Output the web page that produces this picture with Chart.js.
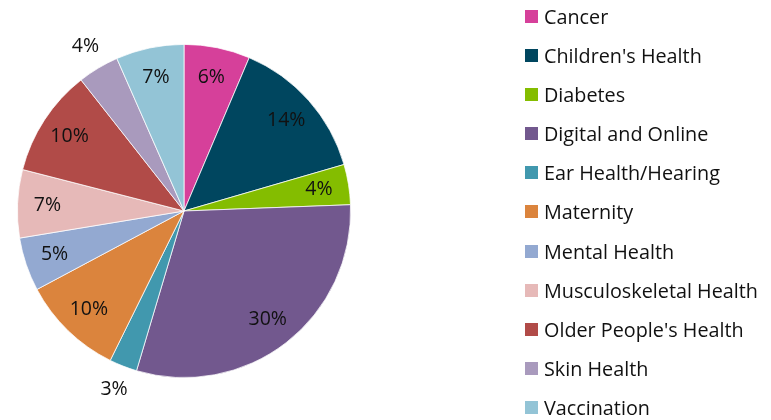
<!DOCTYPE html>
<html>
<head>
<meta charset="utf-8">
<script src="https://cdn.jsdelivr.net/npm/chart.js@4.4.1/dist/chart.umd.min.js"></script>
<style>
    html, body { margin: 0; padding: 0; background: #fff; }
    #wrap { position: relative; width: 771px; height: 420px; overflow: hidden; }
    #chart { position: absolute; left: 0; top: 0; }
    #legend { position: absolute; left: 525px; top: -3.6px; font-family: 'Open Sans', sans-serif; font-size: 19.8px; color: #111; }
    #legend .row { display: flex; align-items: center; height: 39.2px; white-space: nowrap; }
    #legend .box { width: 13px; height: 13px; margin-right: 6px; }
</style>
</head>
<body>
<div id="wrap">
    <canvas id="chart" width="771" height="420"></canvas>
    <div id="legend"></div>
</div>
<script>
// ===== DATA =====
const categories = [
    'Cancer', "Children's Health", 'Diabetes', 'Digital and Online',
    'Ear Health/Hearing', 'Maternity', 'Mental Health', 'Musculoskeletal Health',
    "Older People's Health", 'Skin Health', 'Vaccination'
];
const shares = [6.4, 14.1, 3.9, 30.2, 2.7, 9.9, 5.2, 6.6, 10.4, 4.0, 6.6];
const colors = [
    '#D6409A', '#00465F', '#84BD00', '#72588E', '#4198AE', '#DB843D',
    '#93A9D1', '#E6B9B8', '#B14B48', '#A99ABD', '#93C4D6'
];
// slices whose labels sit outside the pie (best fit)
const outsideLabels = ['Ear Health/Hearing', 'Skin Health'];

// Percentage labels on the slices
const sliceLabels = {
    id: 'sliceLabels',
    afterDatasetsDraw(chart) {
        const ctx = chart.ctx;
        const meta = chart.getDatasetMeta(0);
        ctx.save();
        ctx.font = "19.5px 'Open Sans', sans-serif";
        ctx.fillStyle = '#111';
        ctx.textAlign = 'center';
        ctx.textBaseline = 'middle';
        meta.data.forEach((arc, i) => {
            const p = arc.getProps(['x', 'y', 'startAngle', 'endAngle', 'outerRadius'], true);
            const mid = (p.startAngle + p.endAngle) / 2;
            const k = outsideLabels.includes(categories[i]) ? 1.15 : 0.82;
            const x = p.x + Math.cos(mid) * p.outerRadius * k;
            const y = p.y + Math.sin(mid) * p.outerRadius * k;
            ctx.fillText(Math.round(shares[i]) + '%', x, y);
        });
        ctx.restore();
    }
};

const chart = new Chart(document.getElementById('chart'), {
    type: 'pie',
    data: {
        labels: categories,
        datasets: [{
            data: shares,
            backgroundColor: colors,
            borderColor: '#ffffff',
            borderWidth: 0.75
        }]
    },
    options: {
        responsive: false,
        animation: false,
        layout: { padding: { left: 17, right: 420, top: 44, bottom: 42 } },
        plugins: {
            legend: { display: false },
            tooltip: { enabled: false }
        }
    },
    plugins: [sliceLabels]
});

// HTML legend built from the chart's own legend items
const legendDiv = document.getElementById('legend');
chart.options.plugins.legend.labels.generateLabels(chart).forEach(item => {
    const row = document.createElement('div');
    row.className = 'row';
    const box = document.createElement('span');
    box.className = 'box';
    box.style.background = item.fillStyle;
    const txt = document.createElement('span');
    txt.textContent = item.text;
    row.appendChild(box);
    row.appendChild(txt);
    legendDiv.appendChild(row);
});
</script>
</body>
</html>
